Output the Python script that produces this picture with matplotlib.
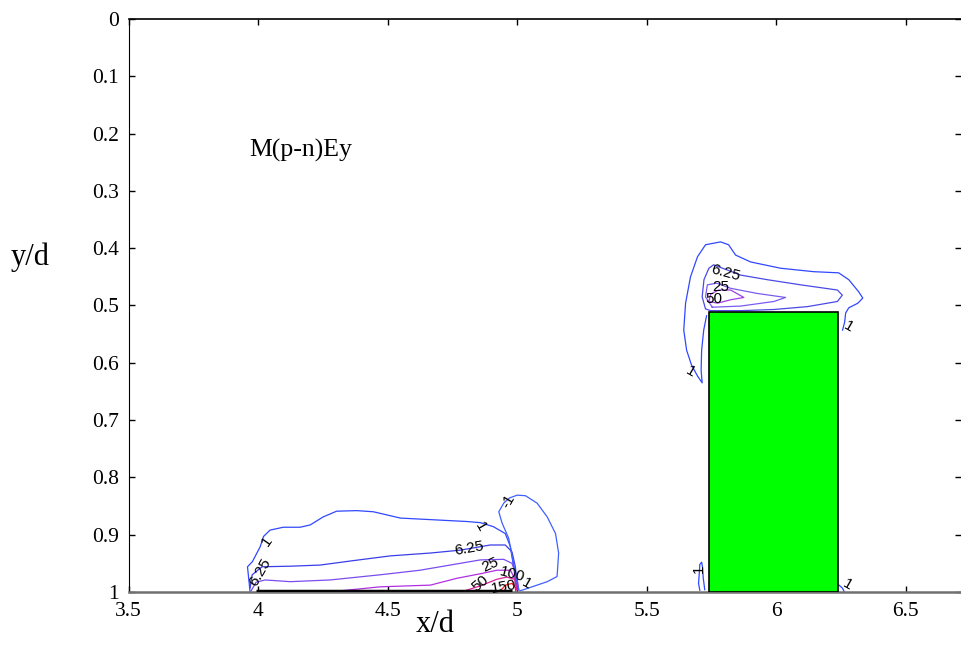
import numpy as np
import matplotlib.pyplot as plt
from matplotlib.patches import Rectangle

plt.rcParams['font.family'] = ['Liberation Serif', 'DejaVu Serif']

# -------------------------
# Contour lines (x/d, y/d)
# -------------------------

# left group, above the plate 4 < x/d < 5
c1_left_x = [3.969, 3.959, 3.978, 4.008, 4.021, 4.046, 4.097, 4.162, 4.201, 4.251, 4.303,
             4.381, 4.445, 4.549, 4.677, 4.806, 4.858, 4.908, 4.954, 4.974, 4.986, 5.000]
c1_left_y = [1.0, 0.956, 0.947, 0.921, 0.903, 0.892, 0.887, 0.887, 0.883, 0.869, 0.859,
             0.858, 0.860, 0.871, 0.874, 0.877, 0.879, 0.886, 0.898, 0.921, 0.956, 0.996]

c625_left_x = [3.969, 3.977, 4.015, 4.124, 4.240, 4.355, 4.510, 4.665, 4.780, 4.896,
               4.954, 4.980, 4.993, 5.002]
c625_left_y = [0.993, 0.970, 0.956, 0.955, 0.953, 0.946, 0.937, 0.932, 0.927, 0.918,
               0.918, 0.930, 0.956, 0.996]

c25_left_x = [3.973, 3.992, 4.027, 4.124, 4.278, 4.471, 4.625, 4.780, 4.858, 4.948,
              4.980, 4.999, 5.006]
c25_left_y = [0.998, 0.983, 0.979, 0.982, 0.979, 0.970, 0.962, 0.950, 0.944, 0.943,
              0.950, 0.973, 0.996]

c50_left_x = [4.317, 4.471, 4.665, 4.768, 4.860, 4.922, 4.974, 4.993, 5.000]
c50_left_y = [0.998, 0.991, 0.988, 0.976, 0.968, 0.962, 0.962, 0.979, 0.996]

c100_left_x = [4.790, 4.860, 4.920, 4.960, 4.990, 4.998]
c100_left_y = [0.999, 0.989, 0.978, 0.974, 0.978, 0.996]

c150_left_x = [4.935, 4.955, 4.980, 4.993, 4.994]
c150_left_y = [0.998, 0.988, 0.985, 0.992, 0.999]

cm1_x = [5.006, 4.986, 4.967, 4.942, 4.929, 4.948, 4.970, 5.000, 5.032, 5.077, 5.116,
         5.148, 5.160, 5.154, 5.116, 5.064, 5.025, 5.010]
cm1_y = [0.996, 0.950, 0.906, 0.880, 0.860, 0.845, 0.836, 0.831, 0.832, 0.845, 0.869,
         0.898, 0.932, 0.973, 0.982, 0.990, 0.996, 0.998]

# right group, above the green block
c1_right_x = [5.731, 5.720, 5.712, 5.710, 5.714, 5.696, 5.673, 5.654, 5.643, 5.650, 5.669,
              5.696, 5.727, 5.785, 5.816, 5.843, 5.901, 6.017, 6.145, 6.241, 6.280, 6.318,
              6.334, 6.315, 6.280, 6.268, 6.264, 6.256]
c1_right_y = [0.518, 0.543, 0.578, 0.613, 0.635, 0.623, 0.604, 0.578, 0.543, 0.496, 0.450,
              0.415, 0.394, 0.389, 0.394, 0.412, 0.424, 0.435, 0.441, 0.443, 0.455, 0.476,
              0.487, 0.496, 0.504, 0.513, 0.529, 0.543]

c625_right_x = [5.747, 5.727, 5.714, 5.721, 5.740, 5.758, 5.863, 5.966, 6.095, 6.236,
                6.255, 6.236, 6.120, 5.991, 5.863, 5.747]
c625_right_y = [0.509, 0.506, 0.485, 0.455, 0.435, 0.429, 0.447, 0.455, 0.464, 0.473,
                0.482, 0.493, 0.502, 0.507, 0.509, 0.509]

c25_right_x = [5.753, 5.727, 5.734, 5.770, 5.824, 5.927, 6.036, 5.991, 5.863, 5.753]
c25_right_y = [0.503, 0.485, 0.464, 0.461, 0.470, 0.479, 0.486, 0.493, 0.501, 0.503]

c50_right_x = [5.740, 5.747, 5.778, 5.824, 5.875, 5.824, 5.773, 5.740]
c50_right_y = [0.493, 0.480, 0.473, 0.473, 0.486, 0.490, 0.496, 0.493]

c1_foot_x = [5.705, 5.700, 5.703, 5.705, 5.712, 5.716, 5.718, 5.724]
c1_foot_y = [0.997, 0.985, 0.967, 0.952, 0.948, 0.958, 0.975, 0.996]

c1_corner_x = [6.242, 6.255, 6.262]
c1_corner_y = [0.988, 0.993, 0.999]

# contour labels: text, x, y, rotation
label_text = ['1', '6.25', '1', '6.25', '25', '50', '100', '150', '-1', '1',
              '6.25', '25', '50', '1', '1', '1', '1']
label_x = [4.034, 4.008, 4.858, 4.813, 4.896, 4.858, 4.980, 4.948, 4.967, 5.038,
           5.805, 5.785, 5.759, 6.281, 5.669, 5.701, 6.275]
label_y = [0.912, 0.965, 0.886, 0.924, 0.953, 0.985, 0.970, 0.991, 0.842, 0.985,
           0.443, 0.467, 0.488, 0.537, 0.615, 0.959, 0.988]
label_rot = [55, 60, -60, 10, 25, 40, -15, 10, 60, -30,
             -15, 0, 0, -30, -30, 90, -30]

# plate and block
plate_x = [3.99, 4.98]
block_x0, block_x1, block_top = 5.74, 6.24, 0.512

xticks = [3.5, 4, 4.5, 5, 5.5, 6, 6.5]
yticks = [0, 0.1, 0.2, 0.3, 0.4, 0.5, 0.6, 0.7, 0.8, 0.9, 1]

# -------------------------
# Figure
# -------------------------

fig = plt.figure(figsize=(9.61, 6.55), dpi=100)
ax = fig.add_axes([0.1338, 0.0962, 0.8667, 0.8748])

blue = '#3048ff'
lines = [
    (c1_left_x, c1_left_y, blue),
    (c625_left_x, c625_left_y, '#3a3ee8'),
    (c25_left_x, c25_left_y, '#7b4cf0'),
    (c50_left_x, c50_left_y, '#b030e0'),
    (c100_left_x, c100_left_y, '#e0209a'),
    (c150_left_x, c150_left_y, '#ff1818'),
    (cm1_x, cm1_y, '#4060ff'),
    (c1_right_x, c1_right_y, blue),
    (c625_right_x, c625_right_y, '#4a4ae6'),
    (c25_right_x, c25_right_y, '#7b5cf0'),
    (c50_right_x, c50_right_y, '#a040e0'),
    (c1_foot_x, c1_foot_y, blue),
    (c1_corner_x, c1_corner_y, blue),
]
for xs, ys, col in lines:
    ax.plot(xs, ys, color=col, lw=0.9, zorder=2)

ax.add_patch(Rectangle((block_x0, block_top), block_x1 - block_x0, 1 - block_top,
                       facecolor='#00ff00', edgecolor='black', lw=1.2, zorder=3))
ax.plot(plate_x, [0.998, 0.998], color='black', lw=2.5, solid_capstyle='butt', zorder=3)

for t, x, y, r in zip(label_text, label_x, label_y, label_rot):
    ax.text(x, y, t, rotation=r, ha='center', va='center', fontsize=11,
            family=['Liberation Sans', 'DejaVu Sans'], zorder=4)

ax.text(3.965, 0.240, 'M(p-n)Ey', fontsize=18.5, ha='left', va='baseline')

ax.set_xlim(3.5, 6.715)
ax.set_ylim(1, 0)
ax.set_xticks(xticks)
ax.set_xticklabels(['3.5', '4', '4.5', '5', '5.5', '6', '6.5'])
ax.set_yticks(yticks)
ax.set_yticklabels(['0', '0.1', '0.2', '0.3', '0.4', '0.5', '0.6', '0.7', '0.8', '0.9', '1'])
ax.tick_params(direction='in', length=4, width=1, labelsize=15.5, pad=7,
               top=True, right=True)

ax.spines['right'].set_visible(False)
ax.spines['bottom'].set_color('#707070')
ax.spines['bottom'].set_linewidth(1.8)
ax.spines['top'].set_linewidth(1.2)

fig.text(30 / 961, 1 - 257 / 655, 'y/d', fontsize=22, ha='center', va='center')
fig.text(435 / 961, 1 - 625 / 655, 'x/d', fontsize=22, ha='center', va='center')

plt.savefig('out.png', dpi=100)
